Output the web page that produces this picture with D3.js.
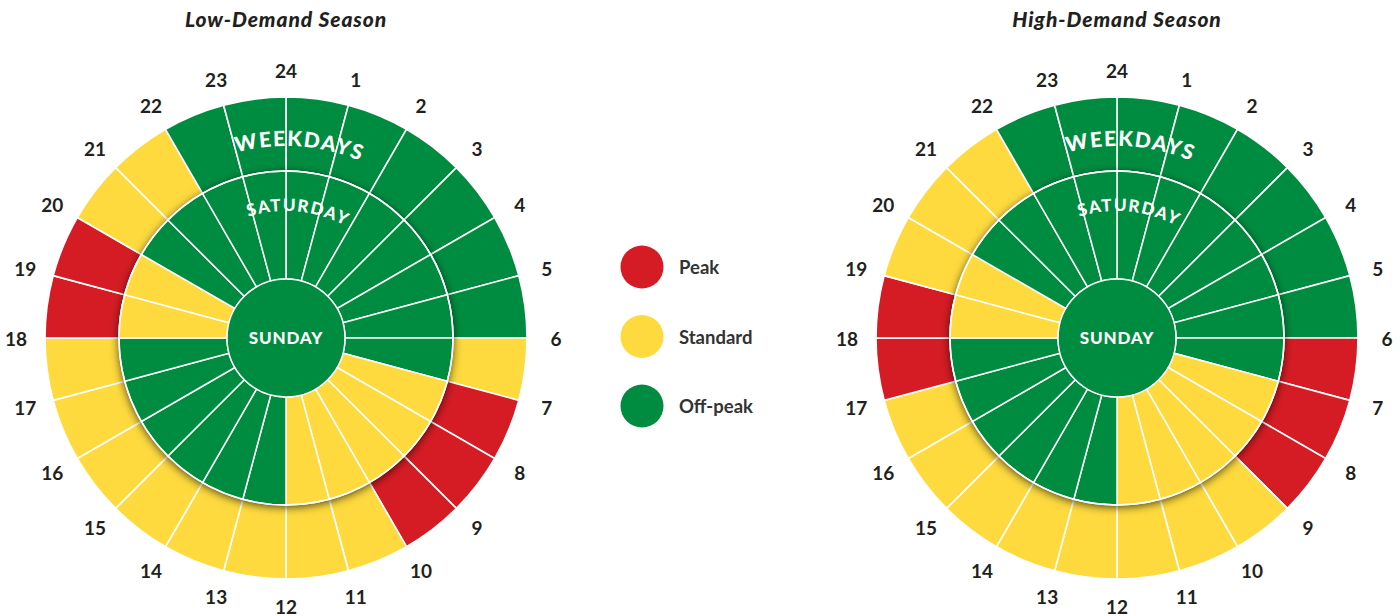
<!DOCTYPE html>
<html>
<head>
<meta charset="utf-8">
<script src="https://cdn.jsdelivr.net/npm/d3@7"></script>
<style>
  html, body { margin: 0; padding: 0; background: #fff; }
  svg { display: block; }
</style>
</head>
<body>
<svg id="chart" width="1400" height="616"></svg>
<script>
// ---------- DATA ----------
const hourLabels = ["24","1","2","3","4","5","6","7","8","9","10","11","12","13","14","15","16","17","18","19","20","21","22","23"];
const tariffs = ["Peak", "Standard", "Off-peak"];
const seasons = ["Low-Demand Season", "High-Demand Season"];
const ringNames = ["WEEKDAYS", "SATURDAY", "SUNDAY"];

// tariff per hour (hour 0-1, 1-2, ... 23-24)
const lowWeekdays = ["Off-peak","Off-peak","Off-peak","Off-peak","Off-peak","Off-peak",
  "Standard","Peak","Peak","Peak","Standard","Standard","Standard","Standard","Standard","Standard",
  "Standard","Standard","Peak","Peak","Standard","Standard","Off-peak","Off-peak"];
const lowSaturday = ["Off-peak","Off-peak","Off-peak","Off-peak","Off-peak","Off-peak","Off-peak",
  "Standard","Standard","Standard","Standard","Standard","Off-peak","Off-peak","Off-peak","Off-peak",
  "Off-peak","Off-peak","Standard","Standard","Off-peak","Off-peak","Off-peak","Off-peak"];
const lowSunday = "Off-peak";
const highWeekdays = ["Off-peak","Off-peak","Off-peak","Off-peak","Off-peak","Off-peak",
  "Peak","Peak","Peak","Standard","Standard","Standard","Standard","Standard","Standard","Standard",
  "Standard","Peak","Peak","Standard","Standard","Standard","Off-peak","Off-peak"];
const highSaturday = ["Off-peak","Off-peak","Off-peak","Off-peak","Off-peak","Off-peak","Off-peak",
  "Standard","Standard","Standard","Standard","Standard","Off-peak","Off-peak","Off-peak","Off-peak",
  "Off-peak","Off-peak","Standard","Standard","Off-peak","Off-peak","Off-peak","Off-peak"];
const highSunday = "Off-peak";

// ---------- STYLE / LAYOUT ----------
const colors = d3.scaleOrdinal().domain(tariffs).range(["#D51C24", "#FEDA3E", "#008C40"]);
const centers = [286, 1117];
const cy = 338;
const rOuter = 241, rMid = 167, rCore = 59, rLabel = 268;
const fontFam = "Lato, 'Open Sans', 'DejaVu Sans', sans-serif";

const svg = d3.select("#chart");
const defs = svg.append("defs");
const f = defs.append("filter").attr("id", "shadow")
  .attr("x", "-20%").attr("y", "-20%").attr("width", "140%").attr("height", "140%");
f.append("feDropShadow").attr("dx", 0).attr("dy", 2).attr("stdDeviation", 5)
  .attr("flood-color", "#000").attr("flood-opacity", 0.75);

const angle = d3.scaleLinear().domain([0, 24]).range([0, 2 * Math.PI]);
const hours = d3.range(24);

function arcPathD(r, centerDeg, spanDeg) {
  const a0 = (centerDeg - spanDeg / 2) * Math.PI / 180;
  const a1 = (centerDeg + spanDeg / 2) * Math.PI / 180;
  const p = d3.path();
  p.moveTo(r * Math.sin(a0), -r * Math.cos(a0));
  p.arc(0, 0, r, a0 - Math.PI / 2, a1 - Math.PI / 2, false);
  return p.toString();
}

const seasonData = [
  { title: seasons[0], weekdays: lowWeekdays, saturday: lowSaturday, sunday: lowSunday },
  { title: seasons[1], weekdays: highWeekdays, saturday: highSaturday, sunday: highSunday }
];

seasonData.forEach((s, si) => {
  const g = svg.append("g").attr("transform", `translate(${centers[si]},${cy})`);

  // title
  svg.append("text")
    .attr("x", centers[si]).attr("y", 27)
    .attr("text-anchor", "middle")
    .attr("font-family", fontFam).attr("font-weight", 900).attr("font-style", "italic")
    .attr("font-size", 21).attr("letter-spacing", 0.9).attr("fill", "#231F20")
    .text(s.title);

  // outer ring (weekdays)
  const outerArc = d3.arc().innerRadius(rMid).outerRadius(rOuter)
    .startAngle(h => angle(h)).endAngle(h => angle(h + 1));
  g.append("g").selectAll("path").data(hours).join("path")
    .attr("d", outerArc)
    .attr("fill", h => colors(s.weekdays[h]))
    .attr("stroke", "#fff").attr("stroke-width", 1.6);

  // weekday label
  const idW = `wk${si}`;
  g.append("path").attr("id", idW).attr("d", arcPathD(192, 4, 150)).attr("fill", "none");
  g.append("text")
    .attr("font-family", fontFam).attr("font-weight", 900).attr("font-size", 21)
    .attr("letter-spacing", 1.6).attr("fill", "#fff")
    .append("textPath").attr("href", `#${idW}`).attr("startOffset", "50%")
    .attr("text-anchor", "middle").text(ringNames[0]);

  // inner group (saturday + sunday) with shadow
  const inner = g.append("g").attr("filter", "url(#shadow)");
  const innerArc = d3.arc().innerRadius(rCore).outerRadius(rMid)
    .startAngle(h => angle(h)).endAngle(h => angle(h + 1));
  inner.append("circle").attr("r", rMid).attr("fill", "#fff");
  const innerG = g.append("g");
  innerG.selectAll("path").data(hours).join("path")
    .attr("d", innerArc)
    .attr("fill", h => colors(s.saturday[h]))
    .attr("stroke", "#fff").attr("stroke-width", 1.5);
  innerG.append("circle").attr("r", rMid).attr("fill", "none")
    .attr("stroke", "#fff").attr("stroke-width", 1.5);

  const idS = `sat${si}`;
  g.append("path").attr("id", idS).attr("d", arcPathD(127, 5.5, 150)).attr("fill", "none");
  g.append("text")
    .attr("font-family", fontFam).attr("font-weight", 900).attr("font-size", 17)
    .attr("letter-spacing", 1.6).attr("fill", "#fff")
    .append("textPath").attr("href", `#${idS}`).attr("startOffset", "50%")
    .attr("text-anchor", "middle").text(ringNames[1]);

  // sunday core
  g.append("circle").attr("r", rCore).attr("fill", colors(s.sunday))
    .attr("stroke", "#fff").attr("stroke-width", 1.5);
  g.append("text").attr("y", 6)
    .attr("text-anchor", "middle")
    .attr("font-family", fontFam).attr("font-weight", 900).attr("font-size", 17)
    .attr("letter-spacing", 0.8).attr("fill", "#fff")
    .text(ringNames[2]);

  // hour labels
  g.append("g").selectAll("text").data(hours).join("text")
    .attr("x", h => (rLabel + 2) * Math.sin(angle(h)))
    .attr("y", h => -rLabel * Math.cos(angle(h)))
    .attr("text-anchor", "middle").attr("dominant-baseline", "central")
    .attr("font-family", fontFam).attr("font-weight", 700).attr("font-size", 19)
    .attr("fill", "#231F20")
    .text(h => hourLabels[h]);
});

// legend
const legendY = d3.scalePoint().domain(tariffs).range([267, 406]);
const lg = svg.append("g");
lg.selectAll("circle").data(tariffs).join("circle")
  .attr("cx", 642).attr("cy", d => legendY(d)).attr("r", 21.5)
  .attr("fill", d => colors(d));
lg.selectAll("text").data(tariffs).join("text")
  .attr("x", 679).attr("y", d => legendY(d)).attr("dominant-baseline", "central")
  .attr("font-family", fontFam).attr("font-weight", 700).attr("font-size", 18.5)
  .attr("fill", "#333").text(d => d);
</script>
</body>
</html>
